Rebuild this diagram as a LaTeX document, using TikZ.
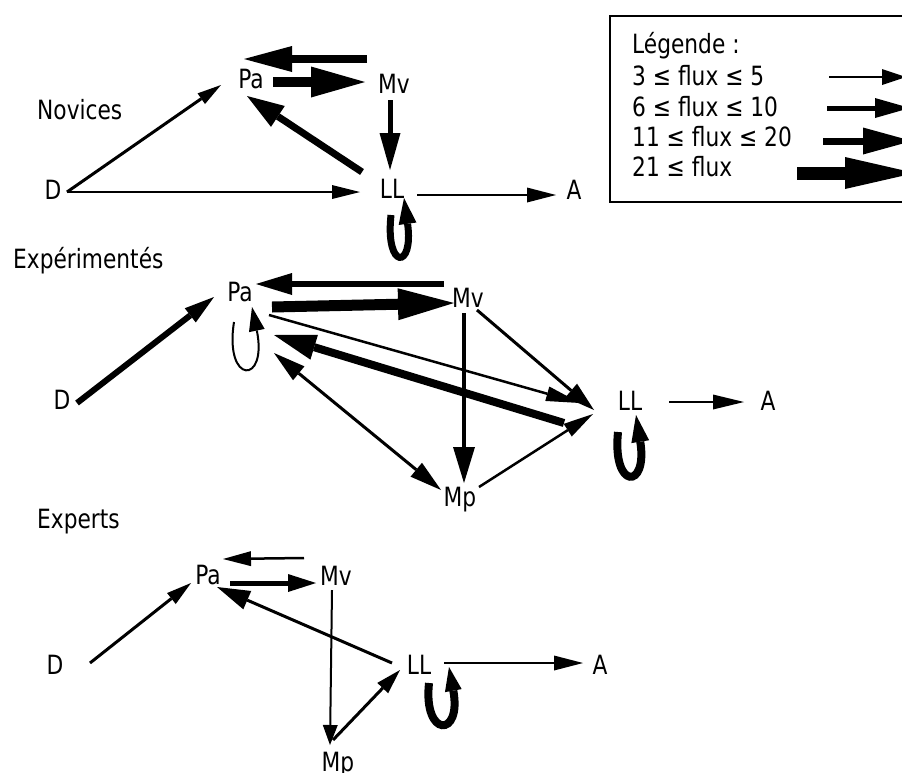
\documentclass[tikz,border=0pt]{standalone}
\usepackage{fontspec}
\setmainfont{DejaVu Sans}[FakeStretch=0.82]
\usetikzlibrary{arrows.meta}
\begin{document}
\begin{tikzpicture}[x=1pt,y=-1pt,
  lbl/.style={font=\fontsize{26.5}{30}\selectfont, inner sep=0pt, anchor=base},
  ttl/.style={lbl, anchor=base west},
  fl/.style n args={3}{line width=#1, -{Triangle[length=#2 0 0, width=#3 0 0, line width=0pt 0 0]}},
  fll/.style n args={3}{line width=#1, {Triangle[length=#2 0 0, width=#3 0 0, line width=0pt 0 0]}-{Triangle[length=#2 0 0, width=#3 0 0, line width=0pt 0 0]}},
  ]
\useasboundingbox (0,0) rectangle (902,772);

% ---------------- Novices ----------------
\node[ttl] (tN) at (37,119) {Novices};
\node[lbl] (nPa) at (251,88) {Pa};
\node[lbl] (nMv) at (394,93) {Mv};
\node[lbl] (nD) at (53,199) {D};
\node[lbl] (nLL) at (392,198) {LL};
\node[lbl] (nA) at (574,199) {A};

\draw[fl={8pt}{48pt}{26pt}] ([shift={(-27,-34)}]nMv.base) -- ([shift={(-7,-29)}]nPa.base);
\draw[fl={10pt}{54pt}{31pt}] ([shift={(22,-6)}]nPa.base) -- ([shift={(-29,-11)}]nMv.base);
\draw[fl={3pt}{24pt}{13pt}] ([shift={(14,-7)}]nD.base) -- ([shift={(-30,-3)}]nPa.base);
\draw[fl={2pt}{28pt}{14pt}] ([shift={(14,-7)}]nD.base) -- ([shift={(-32,-6)}]nLL.base);
\draw[fl={5pt}{37pt}{21pt}] ([shift={(-4,7)}]nMv.base) -- ([shift={(-2,-28)}]nLL.base);
\draw[fl={7pt}{37pt}{25pt}] ([shift={(-30,-26)}]nLL.base) -- ([shift={(-4,8)}]nPa.base);
\draw[fl={2pt}{29pt}{15pt}] ([shift={(25,-3)}]nLL.base) -- ([shift={(-18,-4)}]nA.base);
\draw[fl={7pt}{26pt}{18pt}] ([shift={(-1,17)}]nLL.base) .. controls ([shift={(-7,72)}]nLL.base) and ([shift={(22,72)}]nLL.base) .. ([shift={(12,0)}]nLL.base);

% ---------------- Experimentes ----------------
\node[ttl] (tE) at (13,268) {Expérimentés};
\node[lbl] (ePa) at (240,301) {Pa};
\node[lbl] (eMv) at (468,307) {Mv};
\node[lbl] (eD) at (62,409) {D};
\node[lbl] (eLL) at (630,410) {LL};
\node[lbl] (eA) at (768,410) {A};
\node[lbl] (eMp) at (460,506) {Mp};

\draw[fl={6pt}{30pt}{18pt}] ([shift={(15,-6)}]eD.base) -- ([shift={(-26,-4)}]ePa.base);
\draw[fl={6pt}{36pt}{22pt}] ([shift={(-24,-23)}]eMv.base) -- ([shift={(16,-17)}]ePa.base);
\draw[fl={11pt}{56pt}{32pt}] ([shift={(32,6)}]ePa.base) -- ([shift={(-14,-4)}]eMv.base);
\draw[fl={2.5pt}{34pt}{15pt}] ([shift={(29,14)}]ePa.base) -- ([shift={(-50,-7)}]eLL.base);
\draw[fl={8pt}{42pt}{26pt}] ([shift={(-66,13)}]eLL.base) -- ([shift={(34,34)}]ePa.base);
\draw[fl={3pt}{30pt}{18pt}] ([shift={(9,3)}]eMv.base) -- ([shift={(-36,0)}]eLL.base);
\draw[fl={4.5pt}{36pt}{22pt}] ([shift={(-4,6)}]eMv.base) -- ([shift={(4,-23)}]eMp.base);
\draw[fll={3pt}{32pt}{18pt}] ([shift={(34,52)}]ePa.base) -- ([shift={(-19,-16)}]eMp.base);
\draw[fl={2.5pt}{30pt}{15pt}] ([shift={(19,-19)}]eMp.base) -- ([shift={(-37,4)}]eLL.base);
\draw[fl={2.5pt}{31pt}{15pt}] ([shift={(39,-8)}]eLL.base) -- ([shift={(-24,-8)}]eA.base);
\draw[fl={2pt}{24pt}{16pt}] ([shift={(-6,21)}]ePa.base) .. controls ([shift={(-16,84)}]ePa.base) and ([shift={(28,84)}]ePa.base) .. ([shift={(12,6)}]ePa.base);
\draw[fl={8pt}{27pt}{18pt}] ([shift={(-12,22)}]eLL.base) .. controls ([shift={(-18,80)}]eLL.base) and ([shift={(18,80)}]eLL.base) .. ([shift={(6,5)}]eLL.base);

% ---------------- Experts ----------------
\node[ttl] (tX) at (37,528) {Experts};
\node[lbl] (xPa) at (208,584) {Pa};
\node[lbl] (xMv) at (336,585) {Mv};
\node[lbl] (xD) at (55,674) {D};
\node[lbl] (xLL) at (419,674) {LL};
\node[lbl] (xA) at (600,674) {A};
\node[lbl] (xMp) at (338,771) {Mp};

\draw[fl={3pt}{25pt}{14pt}] ([shift={(35,-11)}]xD.base) -- ([shift={(-17,-1)}]xPa.base);
\draw[fl={2.5pt}{28pt}{15pt}] ([shift={(-32,-27)}]xMv.base) -- ([shift={(15,-25)}]xPa.base);
\draw[fl={5pt}{28pt}{18pt}] ([shift={(22,-1)}]xPa.base) -- ([shift={(-20,-2)}]xMv.base);
\draw[fl={3pt}{33pt}{20pt}] ([shift={(-27,-11)}]xLL.base) -- ([shift={(9,3)}]xPa.base);
\draw[fl={2pt}{20pt}{15pt}] ([shift={(-4,5)}]xMv.base) -- ([shift={(-8,-26)}]xMp.base);
\draw[fl={3pt}{25pt}{15pt}] ([shift={(-5,-31)}]xMp.base) -- ([shift={(-19,-4)}]xLL.base);
\draw[fl={2.5pt}{29pt}{15pt}] ([shift={(25,-11)}]xLL.base) -- ([shift={(-17,-11)}]xA.base);
\draw[fl={8pt}{24pt}{17pt}] ([shift={(10,9)}]xLL.base) .. controls ([shift={(4,64)}]xLL.base) and ([shift={(43,64)}]xLL.base) .. ([shift={(30,-7)}]xLL.base);

% ---------------- Legend ----------------
\draw[line width=2pt] (610,16) rectangle (930,202);
\node[ttl] (lg0) at (632,53) {Légende :};
\node[ttl] (lg1) at (632,85) {3 ≤ flux ≤ 5};
\node[ttl] (lg2) at (632,116) {6 ≤ flux ≤ 10};
\node[ttl] (lg3) at (632,146) {11 ≤ flux ≤ 20};
\node[ttl] (lg4) at (632,176) {21 ≤ flux};
\coordinate (l1s) at (829,77); \coordinate (l1e) at (906,77);
\coordinate (l2s) at (827,108); \coordinate (l2e) at (910,108);
\coordinate (l3s) at (823,141); \coordinate (l3e) at (912,141);
\coordinate (l4s) at (797,173); \coordinate (l4e) at (915,173);
\draw[fl={2pt}{24pt}{16pt}] (l1s) -- (l1e);
\draw[fl={5pt}{35pt}{20pt}] (l2s) -- (l2e);
\draw[fl={7pt}{49pt}{27pt}] (l3s) -- (l3e);
\draw[fl={13pt}{70pt}{32pt}] (l4s) -- (l4e);
\end{tikzpicture}
\end{document}
